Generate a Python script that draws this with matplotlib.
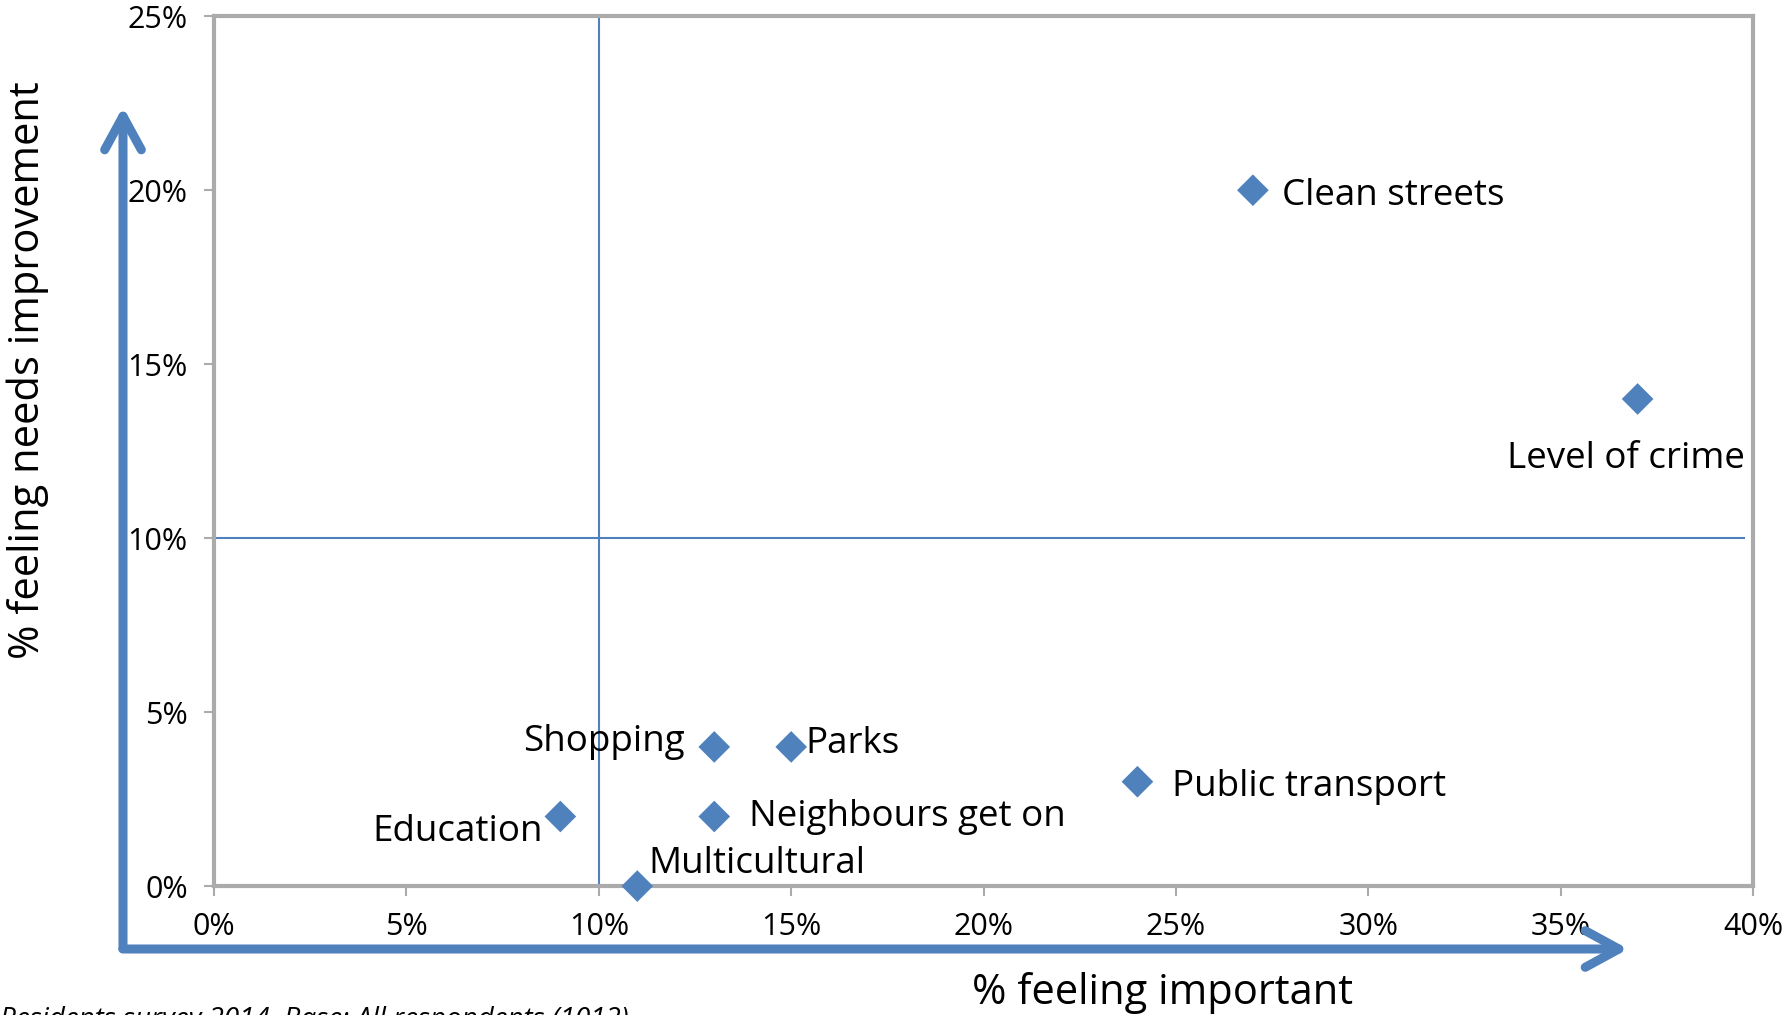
import matplotlib.pyplot as plt
from matplotlib.patches import FancyArrowPatch
from matplotlib.ticker import FuncFormatter

plt.rcParams['font.family'] = ['Open Sans', 'DejaVu Sans']

# data
items = ["Clean streets", "Level of crime", "Public transport", "Parks",
         "Shopping", "Neighbours get on", "Education", "Multicultural"]
important = [27, 37, 24, 15, 13, 13, 9, 11]
needs_improvement = [20, 14, 3, 4, 4, 2, 2, 0]

# label placement: offset in pixels + alignment
label_pos = {
    "Clean streets": ((29, -6), 'left', 'center'),
    "Level of crime": ((107, -42), 'right', 'top'),
    "Public transport": ((35, -5), 'left', 'center'),
    "Parks": ((14, 3), 'left', 'center'),
    "Shopping": ((-30, 5), 'right', 'center'),
    "Neighbours get on": ((35, 0), 'left', 'center'),
    "Education": ((-17, -15), 'right', 'center'),
    "Multicultural": ((11, 22), 'left', 'center'),
}

blue = '#4F81BD'
grey = '#ABABAB'

fig = plt.figure(figsize=(17.87, 10.15), dpi=100)
ax = fig.add_axes([0.1198, 0.127, 0.8612, 0.857])

ax.axhline(10, xmin=0, xmax=0.994, color=blue, lw=1.5, zorder=1)
ax.axvline(10, color=blue, lw=1.5, zorder=1)

ax.scatter(important, needs_improvement, marker='D', s=260, color=blue,
           edgecolors='none', zorder=3, clip_on=False)

for name, x, y in zip(items, important, needs_improvement):
    off, ha, va = label_pos[name]
    ax.annotate(name, (x, y), xytext=off, textcoords='offset pixels',
                ha=ha, va=va, fontsize=26.5, color='black')

ax.set_xlim(0, 40)
ax.set_ylim(0, 25)
ax.set_xticks(range(0, 41, 5))
ax.set_yticks(range(0, 26, 5))
ax.xaxis.set_major_formatter(FuncFormatter(lambda v, p: f"{v:.0f}%"))
ax.yaxis.set_major_formatter(FuncFormatter(lambda v, p: f"{v:.0f}%"))
ax.tick_params(axis='both', colors=grey, labelcolor='black', labelsize=22,
               length=7, width=1.5, direction='out')
ax.tick_params(axis='x', pad=12)
ax.tick_params(axis='y', pad=12)
for sp in ax.spines.values():
    sp.set_color(grey)
    sp.set_linewidth(3)

# L-shaped arrows outside the plot
x0, y0 = 123 / 1787, 1 - 949 / 1015
astyle = '->,head_length=11,head_width=6'
fig.add_artist(FancyArrowPatch((x0, y0 - 0.002), (x0, 1 - 104 / 1015),
                               transform=fig.transFigure, arrowstyle=astyle,
                               mutation_scale=2.2, color=blue, lw=6.5, capstyle='round',
                               joinstyle='round'))
fig.add_artist(FancyArrowPatch((x0 - 0.0017, y0), (1631 / 1787, y0),
                               transform=fig.transFigure, arrowstyle=astyle,
                               mutation_scale=2.2, color=blue, lw=6.5, capstyle='round',
                               joinstyle='round'))

fig.text(28 / 1787, 1 - 370 / 1015, "% feeling needs improvement", rotation=90,
         ha='center', va='center', fontsize=30)
fig.text(1163 / 1787, 1 - 993 / 1015, "% feeling important",
         ha='center', va='center', fontsize=30)
fig.text(0.0, 1 - 1006 / 1015, "Residents survey 2014. Base: All respondents (1012)",
         ha='left', va='top', fontsize=20, style='italic')

fig.savefig('out.png', dpi=100)
